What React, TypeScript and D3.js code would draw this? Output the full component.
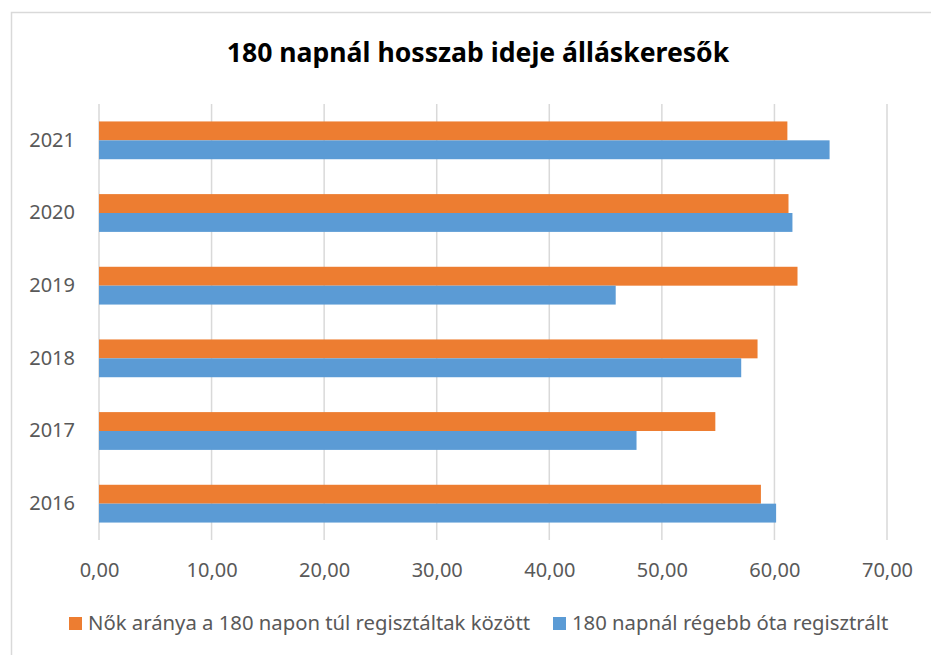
import React, { useEffect, useRef } from "react";
import * as d3 from "d3";

const years = ["2016", "2017", "2018", "2019", "2020", "2021"];
const womenShare = [58.8, 54.75, 58.5, 62.05, 61.25, 61.15];
const longTerm = [60.15, 47.75, 57.05, 45.9, 61.6, 64.9];
const xTicks = [0, 10, 20, 30, 40, 50, 60, 70];
const seriesNames = [
  "Nők aránya a 180 napon túl regisztáltak között",
  "180 napnál régebb óta regisztrált",
];
const colors = ["#ED7D31", "#5B9BD5"];

const W = 931;
const H = 655;
const FONT = "'Noto Sans', 'Open Sans', sans-serif";

export default function App() {
  const svgRef = useRef<SVGSVGElement>(null);

  useEffect(() => {
    const svg = d3.select(svgRef.current);
    svg.selectAll("*").remove();

    const left = 99, right = 887, top = 104, bottom = 540;

    const x = d3.scaleLinear().domain([0, 70]).range([left, right]);
    // 2021 at the top
    const y = d3
      .scaleBand()
      .domain([...years].reverse())
      .range([top, bottom])
      .paddingInner(0.48)
      .paddingOuter(0.24);
    const inner = d3
      .scaleBand()
      .domain(["0", "1"])
      .range([0, y.bandwidth()]);

    // chart border
    svg
      .append("rect")
      .attr("x", 11.5)
      .attr("y", 12.5)
      .attr("width", W)
      .attr("height", H)
      .attr("fill", "white")
      .attr("stroke", "#d9d9d9")
      .attr("stroke-width", 1.5);

    svg
      .append("text")
      .attr("x", 478)
      .attr("y", 62)
      .attr("text-anchor", "middle")
      .attr("font-family", FONT)
      .attr("font-weight", "bold")
      .attr("font-size", 26.6)
      .attr("fill", "#000")
      .text("180 napnál hosszab ideje álláskeresők");

    svg
      .append("g")
      .selectAll("line")
      .data(xTicks)
      .join("line")
      .attr("x1", (d) => x(d))
      .attr("x2", (d) => x(d))
      .attr("y1", top)
      .attr("y2", bottom)
      .attr("stroke", "#d9d9d9")
      .attr("stroke-width", 1.5);

    const xAxis = d3
      .axisBottom(x)
      .tickValues(xTicks)
      .tickSize(0)
      .tickFormat((d) => d3.format(".2f")(d as number).replace(".", ","));
    const gx = svg
      .append("g")
      .attr("transform", `translate(0, ${bottom})`)
      .call(xAxis);
    gx.select(".domain").remove();
    gx.selectAll("text")
      .attr("y", 37)
      .attr("dy", 0)
      .attr("font-family", FONT)
      .attr("font-size", 20)
      .attr("fill", "#595959");

    const yAxis = d3.axisLeft(y).tickSize(0).tickPadding(24);
    const gy = svg
      .append("g")
      .attr("transform", `translate(${left}, 0)`)
      .call(yAxis);
    gy.select(".domain").remove();
    gy.selectAll("text")
      .attr("font-family", FONT)
      .attr("font-size", 20)
      .attr("fill", "#595959");

    const rows = years.map((yr, i) => ({ yr, vals: [womenShare[i], longTerm[i]] }));
    const groups = svg
      .append("g")
      .selectAll("g")
      .data(rows)
      .join("g")
      .attr("transform", (d) => `translate(0, ${y(d.yr)})`);
    groups
      .selectAll("rect")
      .data((d) => d.vals)
      .join("rect")
      .attr("x", x(0))
      .attr("y", (_, j) => inner(String(j)) as number)
      .attr("height", inner.bandwidth())
      .attr("width", (v) => x(v) - x(0))
      .attr("fill", (_, j) => colors[j]);

    // legend
    const legendX = [69, 553];
    const lg = svg
      .append("g")
      .selectAll("g")
      .data(seriesNames)
      .join("g")
      .attr("transform", (_, i) => `translate(${legendX[i]}, 617)`);
    lg.append("rect")
      .attr("width", 13)
      .attr("height", 13)
      .attr("fill", (_, i) => colors[i]);
    lg.append("text")
      .attr("x", 19)
      .attr("y", 13)
      .attr("font-family", FONT)
      .attr("font-size", 20.3)
      .attr("fill", "#595959")
      .text((d) => d);
  }, []);

  return (
    <svg
      ref={svgRef}
      width={W}
      height={H}
      style={{ position: "absolute", left: 0, top: 0 }}
    />
  );
}
